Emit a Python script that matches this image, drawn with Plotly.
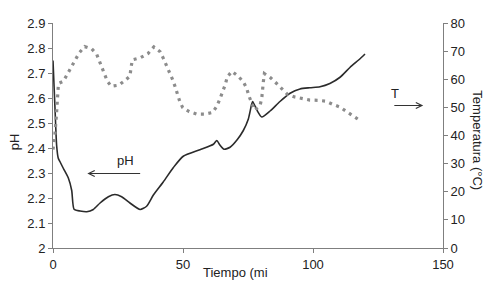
import plotly.graph_objects as go

# pH series (time in minutes)
ph_time = [0, 0.8, 1.4, 2.0, 2.7, 4.0, 5.9, 7.2, 8.1, 10.4, 13, 15.5, 18.1, 21.3, 23.8,
           26.4, 29.6, 33.5, 36, 38.6, 42.4, 46.3, 50.1, 56.5, 61.7, 63, 64.2, 65.8, 68.1,
           70.9, 73.2, 75.1, 76.4, 76.8, 78.5, 80.3, 83.5, 87.3, 91.2, 95, 98.8, 102.7,
           106.5, 110.4, 114.2, 118.1, 120]
ph_values = [2.75, 2.55, 2.41, 2.36, 2.345, 2.318, 2.28, 2.23, 2.155, 2.148, 2.145, 2.154,
             2.18, 2.205, 2.214, 2.205, 2.18, 2.154, 2.167, 2.212, 2.264, 2.322, 2.367,
             2.393, 2.415, 2.43, 2.412, 2.395, 2.403, 2.434, 2.47, 2.515, 2.575, 2.586,
             2.55, 2.524, 2.548, 2.586, 2.619, 2.636, 2.641, 2.645, 2.658, 2.683, 2.722,
             2.757, 2.776]

# Temperature series
temp_time = [0, 0.7, 1.3, 1.8, 2.1, 4, 5.6, 7, 8.5, 10.1, 12.2, 14.9, 16.8, 17.8, 18.7,
             19.9, 20.9, 22.4, 25.3, 27.6, 29.6, 30, 30.5, 33.5, 36.5, 38.8, 41.2, 42.4,
             43.7, 45, 46, 47, 47.8, 48.8, 49.9, 52.4, 55.3, 58.3, 61.4, 63, 64.2, 65.3,
             66.3, 67, 68.8, 71.2, 73.2, 74.5, 75.3, 77.5, 79.6, 80.3, 80.5, 80.9, 81.3,
             83.7, 86, 88, 90.1, 93, 95.9, 98.8, 102, 105, 107.8, 110.4, 112.9, 115.3, 117.8]
temp_values = [35, 40, 47, 53, 58.5, 59.3, 62, 64.5, 67, 69.4, 71.6, 70.8, 68.9, 66.5, 64,
               61.6, 59.3, 57.5, 57.9, 59.5, 61.1, 64, 66.9, 67.6, 69.1, 71.5, 69.8, 67.5,
               64.8, 62.5, 59.9, 57.3, 54.7, 52, 49.9, 48.5, 47.6, 47.6, 48.2, 50.4, 53,
               55.4, 58.2, 60.8, 62.8, 61.1, 59.1, 56.8, 54.2, 49, 50.5, 53.3, 56.2, 59.1,
               62, 60.5, 58.5, 56.5, 54.7, 53.7, 53.1, 52.6, 52.5, 52.2, 51, 50.1, 48.5,
               47, 45.5]

x_ticks = [0, 50, 100, 150]
ph_ticks = [2, 2.1, 2.2, 2.3, 2.4, 2.5, 2.6, 2.7, 2.8, 2.9]
temp_ticks = [0, 10, 20, 30, 40, 50, 60, 70, 80]

FONT = "Liberation Sans, Arial, sans-serif"
TXT = "#222222"
AX = "#7f7f7f"

fig = go.Figure()
fig.add_trace(go.Scatter(x=temp_time, y=temp_values, yaxis="y2", mode="lines",
                         line=dict(color="#8c8c8c", width=3.2, dash="3px,4.5px"),
                         hoverinfo="skip"))
fig.add_trace(go.Scatter(x=ph_time, y=ph_values, mode="lines",
                         line=dict(color="#2b2b2b", width=1.6, shape="spline", smoothing=0.6),
                         hoverinfo="skip"))

fig.update_layout(
    width=487, height=277,
    margin=dict(l=45, r=52, t=8, b=37),
    paper_bgcolor="white", plot_bgcolor="white",
    showlegend=False,
    font=dict(family=FONT, size=13, color=TXT),
    xaxis=dict(range=[0, 150], tickvals=x_ticks, showgrid=False, zeroline=False,
               showline=True, linecolor=AX, linewidth=1, ticks="outside", ticklen=4,
               tickcolor=AX, tickfont=dict(size=13, color=TXT)),
    yaxis=dict(range=[2, 2.9], tickvals=ph_ticks, showgrid=False, zeroline=False,
               showline=True, linecolor=AX, linewidth=1, ticks="outside", ticklen=4,
               tickcolor=AX, tickfont=dict(size=13, color=TXT)),
    yaxis2=dict(range=[0, 80], tickvals=temp_ticks, overlaying="y", side="right",
                showgrid=False, zeroline=False, showline=True, linecolor=AX, linewidth=1,
                ticks="outside", ticklen=4, tickcolor=AX, tickfont=dict(size=13, color=TXT)),
)

annos = [
    dict(text="pH", xref="paper", yref="paper", x=(14 - 53) / 390, y=(248 - 139) / 232,
         textangle=-90, showarrow=False, xanchor="center", yanchor="middle"),
    dict(text="Temperatura (°C)", xref="paper", yref="paper", x=(478 - 53) / 390,
         y=(248 - 137) / 232, textangle=90, showarrow=False, xanchor="center", yanchor="middle"),
    dict(text="Tiempo (mi", xref="paper", yref="paper", x=(235 - 53) / 390,
         y=(248 - 273) / 232, showarrow=False, xanchor="center", yanchor="middle"),
    dict(text="pH", xref="x", yref="y", x=27.7, y=2.349, showarrow=False),
    dict(text="", xref="x", yref="y", axref="x", ayref="y", x=13.2, y=2.298, ax=34.1, ay=2.298,
         showarrow=True, arrowhead=5, arrowsize=1.2, arrowwidth=1, arrowcolor="#333333"),
    dict(text="T", xref="x", yref="y", x=131.5, y=2.62, showarrow=False),
    dict(text="", xref="x", yref="y", axref="x", ayref="y", x=142.4, y=2.57, ax=130.7, ay=2.57,
         showarrow=True, arrowhead=5, arrowsize=1.2, arrowwidth=1, arrowcolor="#333333"),
]
fig.update_layout(annotations=annos)

fig.write_html("out.html")
